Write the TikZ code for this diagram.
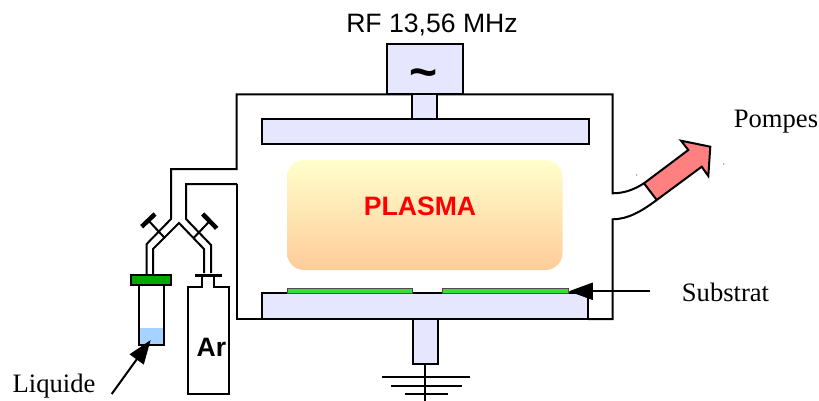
\documentclass[tikz,border=0pt]{standalone}
\usepackage{fontspec}
\setmainfont{Liberation Serif}
\newfontfamily\arialfont{Liberation Sans}
\usepackage{xcolor}
\usetikzlibrary{positioning,arrows.meta}
\definecolor{plate100}{HTML}{e6e6ff}
\definecolor{green500}{HTML}{00a800}
\definecolor{green400}{HTML}{33e033}
\definecolor{liquid200}{HTML}{a6d2ff}
\definecolor{pink400}{HTML}{ff8080}
\definecolor{plasmatop}{HTML}{ffffcc}
\definecolor{plasmabot}{HTML}{ffcc99}
\tikzset{
  wall/.style={draw=black, line width=2pt, line join=miter},
  plate/.style={
    rectangle, draw=black, fill=plate100, line width=2pt,
    inner sep=0pt
  },
  sample/.style={
    rectangle, draw=black!70, fill=green400, line width=1pt,
    inner sep=0pt, minimum width=125.5pt, minimum height=4.7pt
  },
  pointer/.style={
    -{Triangle[length=24pt,width=17pt]},
    draw=black, line width=2pt
  },
  serif/.style={font=\fontsize{26.6}{30}\selectfont, text=black, inner sep=0pt},
  sans/.style={font=\arialfont\fontsize{26.6}{30}\selectfont, text=black, inner sep=0pt},
  sansbold/.style={font=\arialfont\bfseries\fontsize{26.6}{30}\selectfont, inner sep=0pt},
}
\begin{document}
\begin{tikzpicture}[x=1pt,y=-1pt]
  \useasboundingbox (0,0) rectangle (819,401);
  \draw[wall] (237,184) -- (186,184) -- (186,219) -- (211,245) -- (211,273);
  \draw[wall] (262,319) -- (237,319) -- (237,184);
  \draw[wall] (204,273) -- (204,249) -- (179,223) -- (153,249) -- (153,275);
  \draw[wall] (146.7,275) -- (146.7,244) -- (171,219) -- (171,169) -- (236.7,169) -- (236.7,94.3) -- (612.7,94.3) -- (612.7,193.3) .. controls (625,193.3) and (635,189) .. (644,183.3);
  \draw[wall] (656.7,200) .. controls (642,211) and (628,219.3) .. (612.7,219.3) -- (612.7,319) -- (588,319);
  \draw[draw=black, line width=4.5pt] (141.7,226.7) -- (155,214);
  \draw[wall] (148.3,220.3) -- (165,238.3);
  \draw[draw=black, line width=4.5pt] (202.7,214) -- (216.7,228.3);
  \draw[wall] (210,220.7) -- (193.3,238.3);
  \node[plate, fill=white, minimum width=25.6pt, minimum height=60pt] (vial) at (151.5,315) {};
  \fill[liquid200] (139.7,328.3) rectangle (163.3,344);
  \node[rectangle, draw=black, fill=green500, line width=2pt, inner sep=0pt, minimum width=40.3pt, minimum height=10pt] (cap) at (151.2,280) {};
  \draw[wall, fill=white] (201.7,275) -- (201.7,286.7) -- (187.7,286.7) -- (187.7,394) -- (229.3,394) -- (229.3,286.7) -- (214.3,286.7) -- (214.3,275);
  \draw[draw=black, line width=3pt] (195,275) -- (221.7,275);
  \node[sansbold] (argon) at (211.5,347) {Ar};
  \coordinate (liquidefrom) at (111.7,394);
  \coordinate (liquideto) at (150.7,340);
  \draw[pointer] (liquidefrom) -- (liquideto);
  \node[plate, minimum width=75.4pt, minimum height=50pt] (rfbox) at (425,69.3) {};
  \node[font=\arialfont\bfseries\fontsize{48}{48}\selectfont, inner sep=0pt] (tilde) at (423.3,79) {\char`\~};
  \node[plate, minimum width=25pt, minimum height=24.7pt] (rfstem) at (424.8,106.7) {};
  \node[plate, minimum width=327pt, minimum height=25.3pt] (topplate) at (425.2,131.7) {};
  \shade[top color=plasmatop, bottom color=plasmabot, rounded corners=17pt] (287,160) rectangle (562.5,270);
  \node[sansbold, text=red] (plasma) at (420,206.5) {PLASMA};
  \node[plate, minimum width=326.6pt, minimum height=25.7pt] (bottomplate) at (425,306.2) {};
  \node[sample] (sampleleft) at (350,291.3) {};
  \node[sample] (sampleright) at (505.5,291.3) {};
  \node[plate, minimum width=25pt, minimum height=45.3pt] (groundstem) at (425.2,341.7) {};
  \coordinate (groundend) at (425.2,401);
  \draw[wall] (groundstem.south) -- (groundend);
  \draw[wall] (382.3,376.7) -- (470,376.7);
  \draw[wall] (391,386.3) -- (462,386.3);
  \draw[wall] (405,394.3) -- (448.3,394.3);
  \coordinate (substratfrom) at (650,291.3);
  \draw[pointer] (substratfrom) -- (sampleright.east);
  \draw[wall, fill=pink400] (644,183.3) -- (656.7,200) -- (701.7,166.7) -- (708.3,176) -- (710.3,146.7) -- (681,140.7) -- (688.3,150) -- cycle;
  \fill[black!70] (636.7,175) circle (0.6pt) (723.7,164) circle (0.6pt);
  \node[sans] (rflabel) at (432,25) {RF 13,56 MHz};
  \node[serif] (pompes) at (776,122) {Pompes};
  \node[serif] (substrat) at (725.5,292) {Substrat};
  \node[serif] (liquide) at (54,386) {Liquide};
\end{tikzpicture}
\end{document}
